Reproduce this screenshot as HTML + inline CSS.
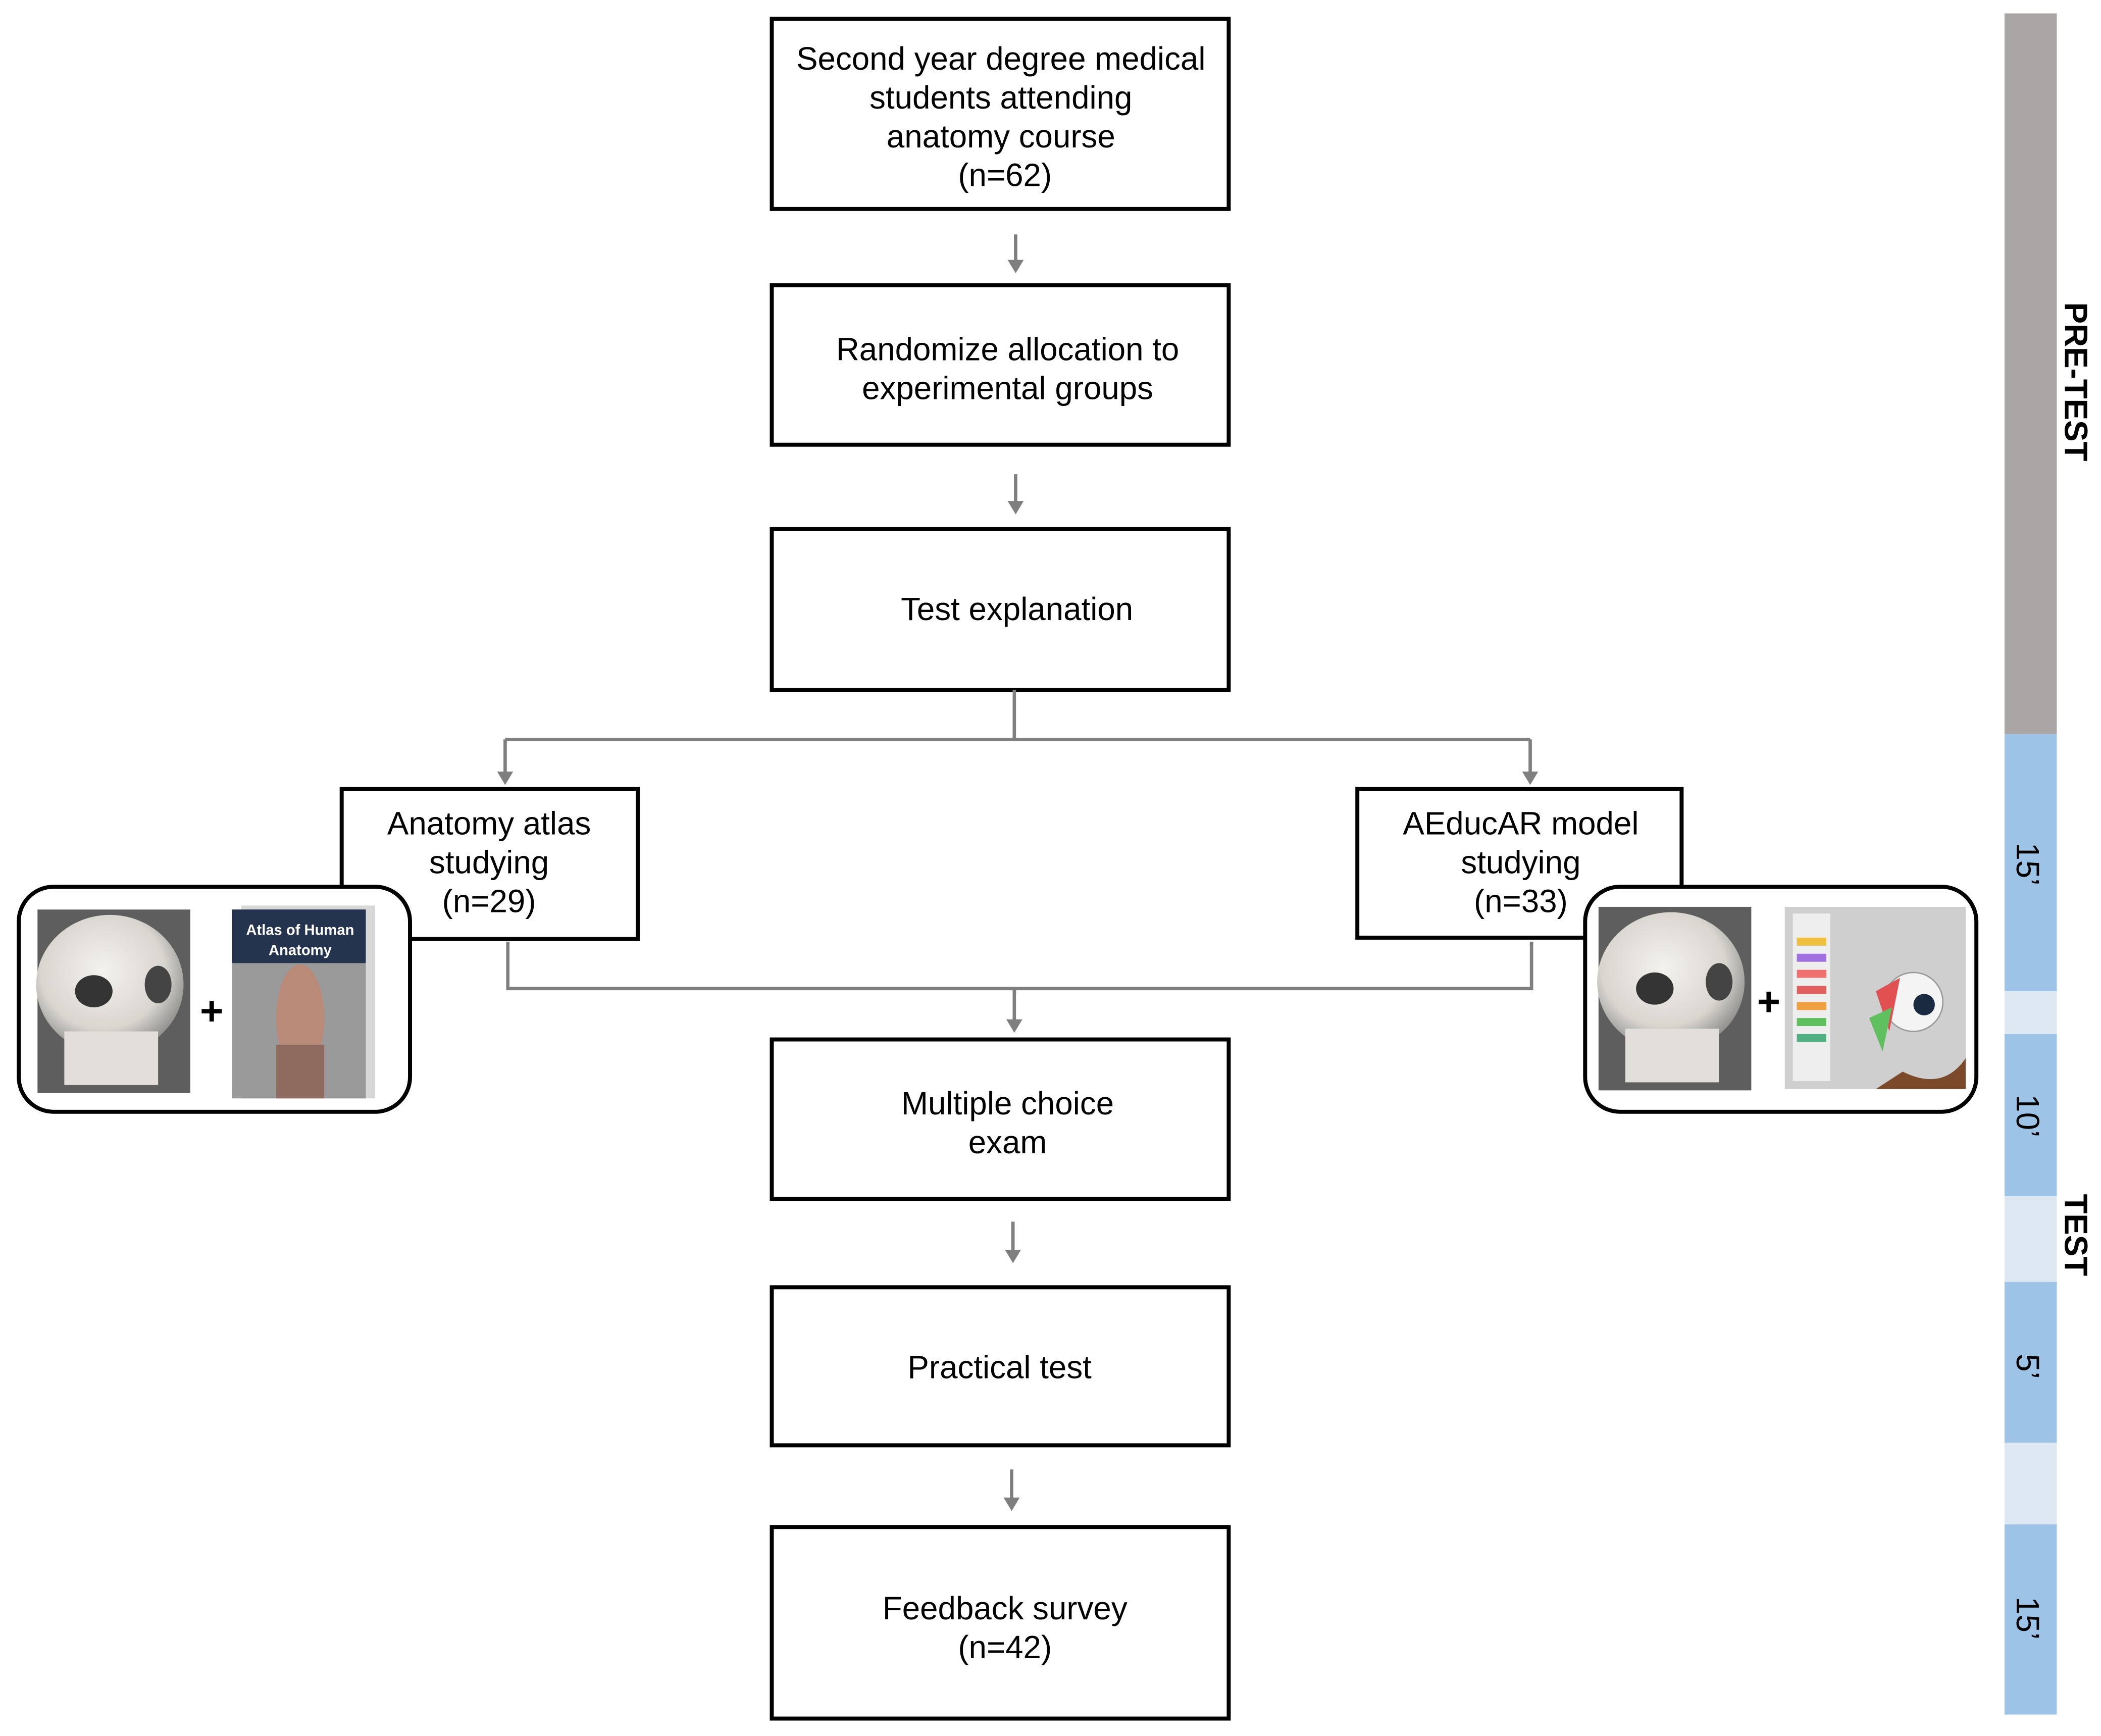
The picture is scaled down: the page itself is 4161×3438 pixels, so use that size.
<!DOCTYPE html>
<html><head><meta charset="utf-8"><style>
html,body{margin:0;padding:0;background:#fff;}
svg{display:block;}
text{font-family:"Liberation Sans",Arial,sans-serif;}
</style></head><body>
<svg width="4161" height="3438" viewBox="0 0 1568 1296" preserveAspectRatio="none" xmlns="http://www.w3.org/2000/svg">
<defs>
<radialGradient id="sk" cx="45%" cy="40%" r="70%"><stop offset="0" stop-color="#f4f2ee"/><stop offset="0.6" stop-color="#d9d6d0"/><stop offset="1" stop-color="#6b6b6b"/></radialGradient>
</defs>
<rect width="1568" height="1296" fill="#fff"/>
<g fill="#fff" stroke="#000" stroke-width="3">
<rect x="576" y="14" width="341" height="142"/>
<rect x="576" y="213" width="341" height="119"/>
<rect x="576" y="395" width="341" height="120"/>
<rect x="255" y="589" width="221" height="112"/>
<rect x="1013" y="589" width="242" height="111"/>
<rect x="576" y="776" width="341" height="119"/>
<rect x="576" y="961" width="341" height="118"/>
<rect x="576" y="1140" width="341" height="143"/>
</g>
<g stroke="#7f7f7f" stroke-width="2.5" fill="none">
<line x1="758" y1="175" x2="758" y2="196"/>
<line x1="758" y1="354" x2="758" y2="376"/>
<path d="M757 515 V552 M377 552 H1142 M377 552 V578 M1142 552 V578"/>
<path d="M379 703 V738 H1143 V703 M757 738 V763"/>
<line x1="756" y1="912" x2="756" y2="935"/>
<line x1="755" y1="1097" x2="755" y2="1120"/>
</g>
<g fill="#7f7f7f">
<path d="M752 194 L764 194 L758 204 z"/>
<path d="M752 374 L764 374 L758 384 z"/>
<path d="M371 576 L383 576 L377 586 z"/>
<path d="M1136 576 L1148 576 L1142 586 z"/>
<path d="M751 761 L763 761 L757 771 z"/>
<path d="M750 933 L762 933 L756 943 z"/>
<path d="M749 1118 L761 1118 L755 1128 z"/>
</g>
<g font-size="24" text-anchor="middle" fill="#000">
<text x="747" y="52">Second year degree medical</text>
<text x="747" y="81">students attending</text>
<text x="747" y="110">anatomy course</text>
<text x="750" y="139">(n=62)</text>
<text x="752" y="269">Randomize allocation to</text>
<text x="752" y="298">experimental groups</text>
<text x="759" y="463">Test explanation</text>
<text x="365" y="623">Anatomy atlas</text>
<text x="365" y="652">studying</text>
<text x="365" y="681">(n=29)</text>
<text x="1135" y="623">AEducAR model</text>
<text x="1135" y="652">studying</text>
<text x="1135" y="681">(n=33)</text>
<text x="752" y="832">Multiple choice</text>
<text x="752" y="861">exam</text>
<text x="746" y="1029">Practical test</text>
<text x="750" y="1209">Feedback survey</text>
<text x="750" y="1238">(n=42)</text>
</g>
<rect x="14" y="662" width="292" height="168" rx="26" fill="#fff" stroke="#000" stroke-width="3"/>
<rect x="28" y="679" width="114" height="137" fill="#5e5e5e"/>
<ellipse cx="82" cy="735" rx="55" ry="52" fill="url(#sk)"/>
<rect x="48" y="770" width="70" height="40" fill="#e2dfda"/>
<ellipse cx="70" cy="740" rx="14" ry="12" fill="#333"/>
<ellipse cx="118" cy="735" rx="10" ry="14" fill="#444"/>
<text x="158" y="765" font-size="30" font-weight="bold" text-anchor="middle">+</text>
<rect x="180" y="676" width="100" height="144" fill="#d8d8d8"/>
<rect x="173" y="679" width="100" height="141" fill="#9a9a9a"/>
<rect x="173" y="679" width="100" height="40" fill="#24344e"/>
<text x="224" y="698" font-size="11" font-weight="bold" fill="#fff" text-anchor="middle">Atlas of Human</text>
<text x="224" y="713" font-size="11" font-weight="bold" fill="#fff" text-anchor="middle">Anatomy</text>
<ellipse cx="224" cy="760" rx="18" ry="40" fill="#b98a78"/>
<rect x="206" y="780" width="36" height="40" fill="#8e6b5e"/>
<rect x="1183" y="662" width="292" height="168" rx="26" fill="#fff" stroke="#000" stroke-width="3"/>
<rect x="1193" y="677" width="114" height="137" fill="#5e5e5e"/>
<ellipse cx="1247" cy="733" rx="55" ry="52" fill="url(#sk)"/>
<rect x="1213" y="768" width="70" height="40" fill="#e2dfda"/>
<ellipse cx="1235" cy="738" rx="14" ry="12" fill="#333"/>
<ellipse cx="1283" cy="733" rx="10" ry="14" fill="#444"/>
<text x="1320" y="758" font-size="30" font-weight="bold" text-anchor="middle">+</text>
<rect x="1332" y="677" width="135" height="136" fill="#cfcfcf"/>
<rect x="1338" y="682" width="28" height="125" fill="#eee"/>
<g>
<rect x="1341" y="700" width="22" height="6" fill="#f0c040"/>
<rect x="1341" y="712" width="22" height="6" fill="#a070e0"/>
<rect x="1341" y="724" width="22" height="6" fill="#f07070"/>
<rect x="1341" y="736" width="22" height="6" fill="#e06060"/>
<rect x="1341" y="748" width="22" height="6" fill="#f0a040"/>
<rect x="1341" y="760" width="22" height="6" fill="#60c060"/>
<rect x="1341" y="772" width="22" height="6" fill="#50b080"/>
</g>
<path d="M1420 800 Q1450 815 1467 790 V813 H1400 z" fill="#7a4a2a"/>
<circle cx="1428" cy="748" r="22" fill="#f4f4f4" stroke="#999"/>
<circle cx="1436" cy="750" r="8" fill="#1a2a40"/>
<path d="M1400 740 L1418 730 L1410 770 z" fill="#e05050"/>
<path d="M1395 760 L1412 752 L1405 785 z" fill="#60c060"/>
<rect x="1496" y="10" width="39" height="538" fill="#aaa6a6"/>
<rect x="1496" y="548" width="39" height="192" fill="#9dc3e6"/>
<rect x="1496" y="740" width="39" height="32" fill="#dde8f3"/>
<rect x="1496" y="772" width="39" height="121" fill="#9dc3e6"/>
<rect x="1496" y="893" width="39" height="64" fill="#dde8f3"/>
<rect x="1496" y="957" width="39" height="120" fill="#9dc3e6"/>
<rect x="1496" y="1077" width="39" height="61" fill="#dde8f3"/>
<rect x="1496" y="1138" width="39" height="142" fill="#9dc3e6"/>
<g font-size="24" text-anchor="middle">
<text transform="translate(1541,285) rotate(90)" font-weight="bold">PRE-TEST</text>
<text transform="translate(1541,922) rotate(90)" font-weight="bold">TEST</text>
<text transform="translate(1505,645) rotate(90)">15’</text>
<text transform="translate(1505,833) rotate(90)">10’</text>
<text transform="translate(1505,1020) rotate(90)">5’</text>
<text transform="translate(1505,1208) rotate(90)">15’</text>
</g>
</svg>
</body></html>
